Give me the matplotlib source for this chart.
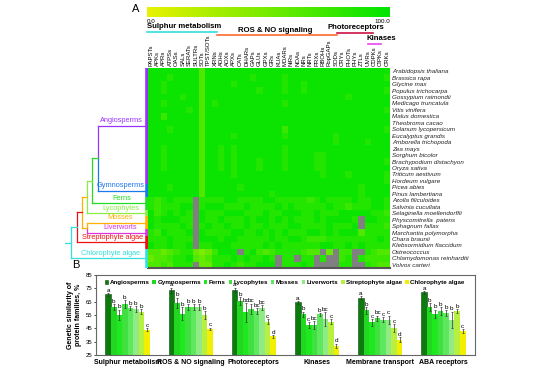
import numpy as np
import matplotlib.pyplot as plt
from matplotlib.colors import LinearSegmentedColormap
from matplotlib.lines import Line2D

plt.rcParams['font.family'] = ['Liberation Sans', 'DejaVu Sans']

# ---- panel A data ----
families = ['PAPSTs', 'APKs', 'APRs', 'ATPSs', 'OASs', 'SALs', 'SERATs', 'SULTRs', 'SOTs',
            'TPST/SOTs', 'XRNs', 'ADHs', 'AOXs', 'APXs', 'CATs', 'DHARs', 'GAPs', 'GLUs',
            'GPXs', 'GRs', 'KUAs', 'MDARs', 'NiRs', 'NOAs', 'NRs', 'NRTs', 'PRXs', 'RBOHs',
            'RopGAPs', 'SODs', 'CRYs', 'PHOTs', 'PHYs', 'ZTLs', 'UVRs', 'CDPKs', 'CIPKs', 'CRKs']

species = ['Arabidopsis thaliana', 'Brassica rapa', 'Glycine max', 'Populus trichocarpa',
           'Gossypium raimondii', 'Medicago truncatula', 'Vitis vinifera', 'Malus domestica',
           'Theobroma cacao', 'Solanum lycopersicum', 'Eucalyptus grandis',
           'Amborella trichopoda', 'Zea mays', 'Sorghum bicolor', 'Brachypodium distachyon',
           'Oryza sativa', 'Triticum aestivum', 'Hordeum vulgare', 'Picea abies',
           'Pinus lambertiana', 'Azolla filiculoides', 'Salvinia cucullata',
           'Selaginella moellendorffii', 'Physcomitrella  patens', 'Sphagnum fallax',
           'Marchantia polymorpha', 'Chara braunii', 'Klebsormidium flaccidum',
           'Ostreococcus', 'Chlamydomonas reinhardtii', 'Volvox carteri']

# similarity, one digit per cell (d -> d*10+5 %), x = no data
cells = [
    '9999999969' '9999999999' '9999999999' '99999999',
    '9998999969' '9999998999' '9899999999' '99999998',
    '9989999969' '9998999999' '9899899999' '99999999',
    '9989999969' '9999999899' '9899899999' '99999998',
    '9999989969' '9999999999' '9999999999' '98999999',
    '9989999969' '8999999999' '9899999999' '99999999',
    '9999998969' '9999999999' '9999999999' '99999998',
    '9979999969' '9999999999' '9999999999' '99999999',
    '9999999969' '9999999999' '9999999999' '99999999',
    '9998999969' '9999999999' '9799999999' '99999998',
    '9999999969' '9998999999' '9899999998' '99999999',
    '9999999969' '9999999999' '9999999998' '99998999',
    '9989999969' '9898999999' '9899999999' '99999999',
    '9989999969' '9898999999' '9899998899' '99999999',
    '9989999969' '9898999899' '9899998899' '99999998',
    '9989999969' '9898999899' '9899998899' '99999999',
    '9999999969' '9998999999' '9999999899' '98999998',
    '9999999969' '9999999999' '9999999999' '99999998',
    '9998999969' '9999899999' '9999999999' '99989999',
    '9999999969' '9999999998' '9999999999' '99989999',
    '8789888x88' '8899888899' '8888878988' '88988998',
    '8788899x89' '9988898888' '9898888898' '87888998',
    '9789898x98' '8899988898' '8999889888' '99999887',
    '9899988x98' '8988898998' '9898889899' '998x9988',
    '9888898x89' '8898898898' '8899888898' '889x8887',
    '8798889x98' '8889988989' '8988899898' '99968888',
    '8889888x99' '9899888889' '8899877788' '88888898',
    '9889889x88' '9998888898' '9888888998' '89898888',
    '6656788545' '7999x89767' '8888766x5x' '77xx8766',
    '5667889656' '8889898898' 'x88x88x8xx' '78x87777',
    '6676888x55' '8898788999' 'x88898xxxx' '88xx8766',
]

lineages = ['Angiosperms', 'Gymnosperms', 'Ferns', 'Lycophytes', 'Mosses', 'Liverworts',
            'Streptophyte algae', 'Chlorophyte algae']
lineage_first_row = [0, 18, 20, 22, 23, 25, 26, 28]
lineage_last_row = [17, 19, 21, 22, 24, 25, 27, 30]
tree_colors = ['#9933ff', '#1f77ee', '#22dd22', '#88ee44', '#ffb000', '#e033e0',
               '#ee1111', '#33e0dd']

# ---- panel B data ----
sections = ['Sulphur metabolism', 'ROS & NO signaling', 'Photoreceptors', 'Kinases',
            'Membrane transport', 'ABA receptors']
angio = [70.5, 73.5, 74, 64.5, 68, 72]
gymno = [61, 64, 65.5, 55.5, 58.5, 61]
ferns = [55, 56, 57, 47.5, 49.5, 56]
lyco = [63, 61, 59.5, 47.5, 52.5, 58]
mosses = [60, 61, 58, 55.5, 51.5, 56.5]
liver = [59.5, 61, 60.5, 52, 51.5, 51.5]
strep = [57.5, 55, 50, 50, 45, 58]
chloro = [44, 44.5, 39, 32, 36.5, 43]
angio_err = [1, 2, 1.5, 1, 1, 1]
gymno_err = [2, 4, 3, 2, 2.5, 3]
ferns_err = [4, 5, 7, 2, 2.5, 3]
lyco_err = [3, 2, 4, 3, 2, 3]
mosses_err = [1.5, 2, 2, 1, 2, 2]
liver_err = [2, 2, 2, 5, 3, 6]
strep_err = [2, 3, 2, 2, 3, 1.5]
chloro_err = [1, 1, 1, 1.5, 2, 1.5]
letters = [['a', 'b', 'b', 'b', 'b', 'b', 'b', 'c'],
           ['a', 'b', 'b', 'b', 'b', 'b', 'b', 'c'],
           ['a', 'b', 'bc', 'bc', 'bc', 'bc', 'c', 'd'],
           ['a', 'b', 'c', 'bc', 'b', 'bc', 'c', 'd'],
           ['a', 'b', 'c', 'bc', 'c', 'c', 'c', 'd'],
           ['a', 'b', 'b', 'b', 'b', 'b', 'b', 'c']]
bar_colors = ['#0c7a0c', '#22d622', '#1ee81e', '#40e040', '#5ee85e', '#90ea86', '#b8f040',
              '#f2f000']

W, H = 550, 367
fig = plt.figure(figsize=(W / 100, H / 100), dpi=100)


def box(x0, y0, x1, y1):
    return [x0 / W, 1 - y1 / H, (x1 - x0) / W, (y1 - y0) / H]


def fx(x):
    return x / W


def fy(y):
    return 1 - y / H


# ---- heatmap ----
mat = np.array([[np.nan if ch == 'x' else int(ch) * 10 + 5 for ch in row] for row in cells])
cmap = LinearSegmentedColormap.from_list('yg', ['#e8f200', '#00e400'])
cmap.set_bad('#808080')

ax = fig.add_axes(box(148, 68, 390, 268))
ax.imshow(np.ma.masked_invalid(mat), cmap=cmap, vmin=0, vmax=100, aspect='auto',
          interpolation='nearest')
ax.xaxis.tick_top()
ax.set_xticks(range(len(families)))
ax.set_xticklabels(families, rotation=90, fontsize=4.3)
ax.yaxis.tick_right()
ax.set_yticks(range(len(species)))
ax.set_yticklabels(species, fontsize=4.5, style='italic', color='#222222')
ax.tick_params(length=0, pad=1.5)
for s in ['top', 'left', 'right']:
    ax.spines[s].set_visible(False)
ax.spines['bottom'].set_color('#555555')
ax.spines['bottom'].set_linewidth(1.5)

# colour scale
cax = fig.add_axes(box(147, 7, 390, 17))
cax.imshow(np.linspace(0, 100, 200)[None, :], cmap=cmap, aspect='auto')
cax.axis('off')
fig.text(fx(147), fy(21.5), '0.0', fontsize=4.5, va='center', ha='left')
fig.text(fx(390), fy(21.5), '100.0', fontsize=4.5, va='center', ha='right')
fig.text(fx(132), fy(12), 'A', fontsize=8)

# functional group headers
headers = [('Sulphur metabolism', 147, 27, 'left', '#33dddd', 147, 217, 32),
           ('ROS & NO signaling', 275, 30, 'center', '#ff6a30', 217, 337, 35),
           ('Photoreceptors', 356, 27.5, 'center', '#cc1144', 337, 373, 32.5),
           ('Kinases', 381, 39, 'center', '#ee44ee', 368, 381, 44)]
for txt, x, y, ha, col, l0, l1, ly in headers:
    fig.text(fx(x), fy(y), txt, fontsize=5.6, fontweight='bold', ha=ha, va='center')
    fig.add_artist(Line2D([fx(l0), fx(l1)], [fy(ly), fy(ly)], color=col, lw=1.2))

# ---- lineage tree ----
tax = fig.add_axes(box(60, 68, 148, 268))
tax.set_xlim(60, 148)
tax.set_ylim(len(species) - 0.5, -0.5)
tax.axis('off')
mid = [(a + b) / 2 for a, b in zip(lineage_first_row, lineage_last_row)]
for i in range(len(lineages)):
    tax.plot([146.5, 146.5], [lineage_first_row[i] - 0.5, lineage_last_row[i] + 0.5],
             color=tree_colors[i], lw=2.6, solid_capstyle='butt')

lw = 0.9
leaf_x = [98, 98, 92, 87, 87, 87, 77, 71]
for i in range(len(lineages)):
    tax.plot([leaf_x[i], 145], [mid[i], mid[i]], color=tree_colors[i], lw=lw)
seed = (mid[0] + mid[1]) / 2
tax.plot([98, 98], [mid[0], seed], color=tree_colors[0], lw=lw)
tax.plot([98, 98], [seed, mid[1]], color=tree_colors[1], lw=lw)
tax.plot([92, 98], [seed, seed], color=tree_colors[2], lw=lw)
eu = (seed + mid[2]) / 2
tax.plot([92, 92], [seed, mid[2]], color=tree_colors[2], lw=lw)
tax.plot([87, 92], [eu, eu], color=tree_colors[3], lw=lw)
vasc = (eu + mid[3]) / 2
tax.plot([87, 87], [eu, mid[3]], color=tree_colors[3], lw=lw)
bryo = (mid[4] + mid[5]) / 2
tax.plot([87, 87], [mid[4], bryo], color=tree_colors[4], lw=lw)
tax.plot([87, 87], [bryo, mid[5]], color=tree_colors[5], lw=lw)
tax.plot([82, 87], [vasc, vasc], color=tree_colors[4], lw=lw)
tax.plot([82, 87], [bryo, bryo], color=tree_colors[4], lw=lw)
tax.plot([82, 82], [vasc, bryo], color=tree_colors[4], lw=lw)
land = (vasc + bryo) / 2
tax.plot([77, 82], [land, land], color=tree_colors[6], lw=lw)
tax.plot([77, 77], [land, mid[6]], color=tree_colors[6], lw=lw)
strepto = (land + mid[6]) / 2
tax.plot([71, 77], [strepto, strepto], color=tree_colors[7], lw=lw)
tax.plot([71, 71], [strepto, mid[7]], color=tree_colors[7], lw=lw)
root = (strepto + mid[7]) / 2
tax.plot([65, 71], [root, root], color=tree_colors[7], lw=lw)

label_x = [121, 121, 122, 121, 120, 120, 113, 111]
for i, name in enumerate(lineages):
    tax.text(label_x[i], mid[i] - 0.25, name, color=tree_colors[i], fontsize=5.3,
             ha='center', va='bottom')

# ---- panel B ----
bx = fig.add_axes(box(96, 275, 475, 355))
series = [angio, gymno, ferns, lyco, mosses, liver, strep, chloro]
errs = [angio_err, gymno_err, ferns_err, lyco_err, mosses_err, liver_err, strep_err, chloro_err]
x = np.arange(len(sections))
bw = 0.7 / len(series)
for i, (vals, err) in enumerate(zip(series, errs)):
    pos = x - 0.35 + bw * (i + 0.5)
    bx.bar(pos, vals, bw, color=bar_colors[i], label=lineages[i],
           edgecolor='#0a4a0a' if i == 0 else 'none', linewidth=0.4)
    bx.errorbar(pos, vals, yerr=err, fmt='none', ecolor='#333333', elinewidth=0.5,
                capsize=0.8, capthick=0.5)
    for j in range(len(sections)):
        bx.text(pos[j], vals[j] + err[j] + 0.3, letters[j][i], fontsize=4.6, ha='center',
                va='bottom')

bx.set_xlim(-0.5, 5.5)
bx.set_ylim(25, 85)
bx.set_yticks(range(25, 86, 10))
bx.set_xticks(x)
bx.set_xticklabels(sections, fontsize=5.0, fontweight='bold')
bx.tick_params(axis='x', length=0, pad=3)
bx.tick_params(axis='y', labelsize=4.3, length=1.5, width=0.5, pad=1)
for s in bx.spines.values():
    s.set_color('#666666')
    s.set_linewidth(0.8)
bx.set_ylabel('Genetic similarity of\nprotein families, %', fontsize=5, fontweight='bold',
              labelpad=3, linespacing=1.1)
bx.legend(ncol=8, loc='upper left', bbox_to_anchor=(0.01, 1.0), frameon=False,
          prop={'size': 4.5, 'weight': 'bold'}, handlelength=0.55, handleheight=0.55,
          handletextpad=0.25, columnspacing=0.45, borderaxespad=0.4)
fig.text(fx(72), fy(268), 'B', fontsize=8)

fig.savefig('out.png', dpi=100)
